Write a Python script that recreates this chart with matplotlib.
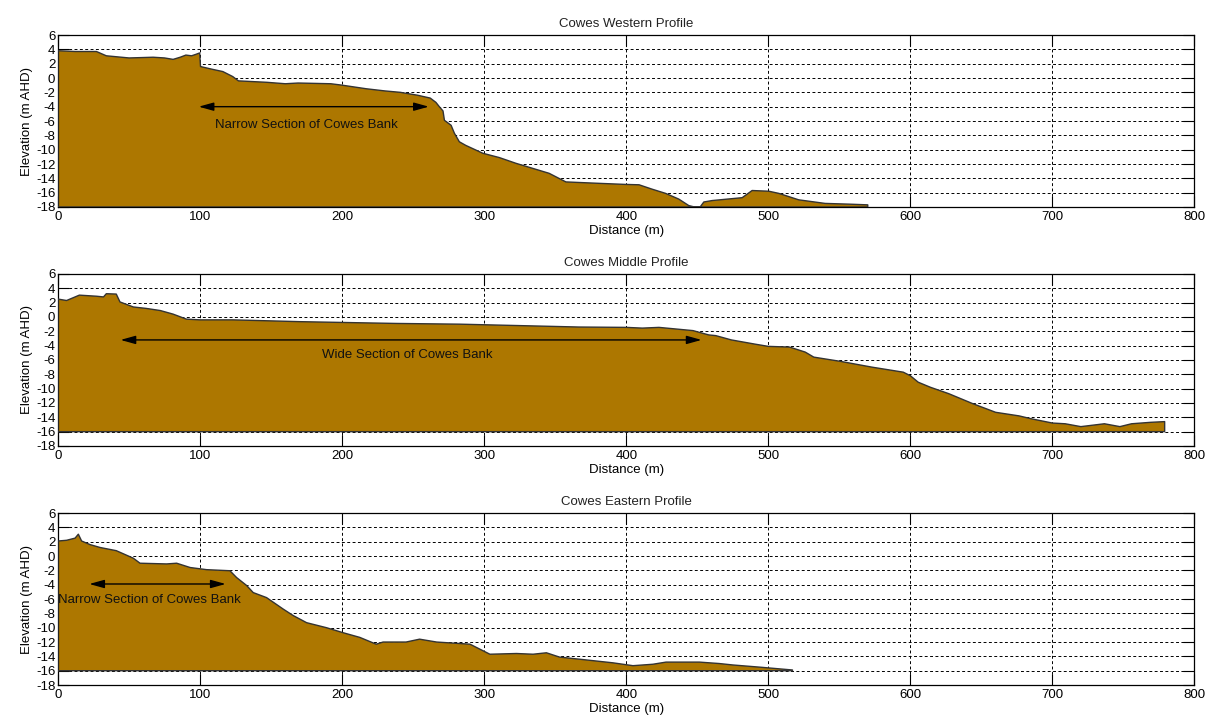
import numpy as np
import matplotlib
matplotlib.use("Agg")
import matplotlib.pyplot as plt

plt.rcParams['font.family'] = ['Liberation Sans', 'DejaVu Sans']
plt.rcParams['axes.unicode_minus'] = False

# Western profile (distance m, elevation m AHD)
west_x = [0, 1, 12, 27, 34, 50, 67, 75, 81, 86, 90, 94, 97, 99.7,
          100.3, 109, 116, 123, 127, 147, 160, 169, 192, 200, 217, 230, 241,
          253, 262, 266, 268.4, 271, 272, 276.7, 279, 282.5, 287, 299, 310.6,
          322.3, 334, 345.7, 357.5, 381, 399.6, 409, 418, 427.7, 437, 444,
          448, 452, 454.6, 460.5, 481.6, 488.6, 500.4, 507.4, 521.4, 540,
          556.6, 570]
west_y = [3.8, 3.8, 3.7, 3.7, 3.1, 2.8, 2.9, 2.8, 2.6, 2.9, 3.2, 3.1, 3.3, 3.5,
          1.6, 1.2, 0.9, 0.2, -0.4, -0.6, -0.8, -0.7, -0.8, -1.0, -1.5, -1.8, -2.0,
          -2.4, -2.8, -3.4, -4.0, -4.6, -5.9, -6.6, -7.7, -8.9, -9.4, -10.5, -11.1,
          -11.9, -12.6, -13.3, -14.5, -14.7, -14.85, -14.9, -15.5, -16.1, -16.9, -17.8,
          -18.0, -18.0, -17.3, -17.1, -16.7, -15.7, -15.8, -16.1, -17.0, -17.5,
          -17.6, -17.7]

# Middle profile
mid_x = [0, 6, 15, 27, 32, 34, 41, 43.6, 53, 62, 72, 81, 90.4, 100, 123, 170,
         238, 282.5, 324.7, 366.8, 400, 411.3, 423, 447, 458, 463, 474, 491, 500,
         515, 526, 532, 551, 573, 595, 600, 605.5, 614, 627, 644, 660, 676.5,
         685, 700, 709, 720, 736.6, 747.5, 755.7, 769, 779]
mid_y = [2.5, 2.3, 3.05, 2.9, 2.8, 3.25, 3.2, 2.1, 1.4, 1.2, 0.9, 0.4, -0.3,
         -0.4, -0.4, -0.65, -0.9, -1.0, -1.2, -1.4, -1.45, -1.55, -1.45, -1.9,
         -2.5, -2.6, -3.2, -3.8, -4.1, -4.2, -4.9, -5.6, -6.2, -7.0, -7.7, -8.2,
         -9.1, -9.8, -10.7, -12.1, -13.3, -13.8, -14.2, -14.8, -14.9, -15.3,
         -14.9, -15.3, -14.9, -14.7, -14.6]

# Eastern profile
east_x = [0, 6, 12, 14.3, 16.6, 22.5, 29.5, 41, 53, 57.7, 76.4, 83.5, 93,
          104.6, 121, 125.7, 132.7, 137.4, 146.8, 158.5, 165.5, 175, 189, 200.7,
          212.4, 224, 228.8, 245, 254.5, 266.5, 290, 297, 304, 322.7, 334.4,
          343.8, 353, 372, 390.6, 404.7, 418.7, 428, 451.5, 465.5, 475, 493.7, 517]
east_y = [2.1, 2.2, 2.5, 3.05, 2.1, 1.6, 1.2, 0.75, -0.3, -1.0, -1.1, -1.0,
          -1.6, -1.9, -2.05, -3.0, -4.1, -5.1, -5.8, -7.4, -8.3, -9.3, -10.0,
          -10.7, -11.35, -12.3, -12.0, -12.0, -11.6, -12.0, -12.3, -13.0, -13.7,
          -13.6, -13.7, -13.5, -14.1, -14.5, -14.9, -15.3, -15.1, -14.8, -14.8,
          -15.0, -15.2, -15.5, -15.9]

titles = ["Cowes Western Profile", "Cowes Middle Profile", "Cowes Eastern Profile"]
profiles = [(west_x, west_y, -18), (mid_x, mid_y, -16), (east_x, east_y, -16)]
# arrow: start, end, y ; label: text, x, y
arrows = [(99, 261, -4.0), (44, 453, -3.2), (22, 118, -3.9)]
labels = [("Narrow Section of Cowes Bank", 175, -6.5),
          ("Wide Section of Cowes Bank", 246, -5.3),
          ("Narrow Section of Cowes Bank", 64, -6.1)]

fill_col = '#AD7700'
fig = plt.figure(figsize=(12.09, 7.22), dpi=100)
bottoms = [0.7133, 0.3823, 0.0512]
fs = 9.5

for i in range(3):
    ax = fig.add_axes([0.048, bottoms[i], 0.940, 0.2382])
    x, y, base = profiles[i]
    ax.fill_between(x, y, base, facecolor=fill_col, edgecolor='none', zorder=2)
    px = [x[0]] + list(x) + [x[-1], x[0]]
    py = [base] + list(y) + [base, base]
    ax.plot(px, py, color='#333333', lw=1.0, zorder=3)
    ax.set_xlim(0, 800)
    ax.set_ylim(-18, 6)
    ax.set_xticks(np.arange(0, 801, 100))
    ax.set_yticks(np.arange(-18, 7, 2))
    ax.grid(True, color='black', linestyle=(0, (3, 2.5)), linewidth=0.7)
    ax.set_axisbelow(True)
    ax.tick_params(direction='in', length=8, width=0.8, top=True, right=True,
                   labelsize=fs, pad=3, colors='black')
    ax.tick_params(axis='y', pad=2)
    for s in ax.spines.values():
        s.set_linewidth(0.9)
    ax.set_title(titles[i], fontsize=fs, pad=6, color='#222222')
    ax.set_xlabel("Distance (m)", fontsize=fs, labelpad=1)
    ax.set_ylabel("Elevation (m AHD)", fontsize=fs, labelpad=2)
    a0, a1, ay = arrows[i]
    ax.annotate("", xy=(a1, ay), xytext=(a0, ay),
                arrowprops=dict(arrowstyle='<|-|>,head_length=0.9,head_width=0.25',
                                color='black', lw=1.0, shrinkA=0, shrinkB=0),
                zorder=5)
    t, tx, ty = labels[i]
    ax.text(tx, ty, t, ha='center', va='center', fontsize=fs, color='#111111', zorder=5)

fig.savefig("out.png", dpi=100)
